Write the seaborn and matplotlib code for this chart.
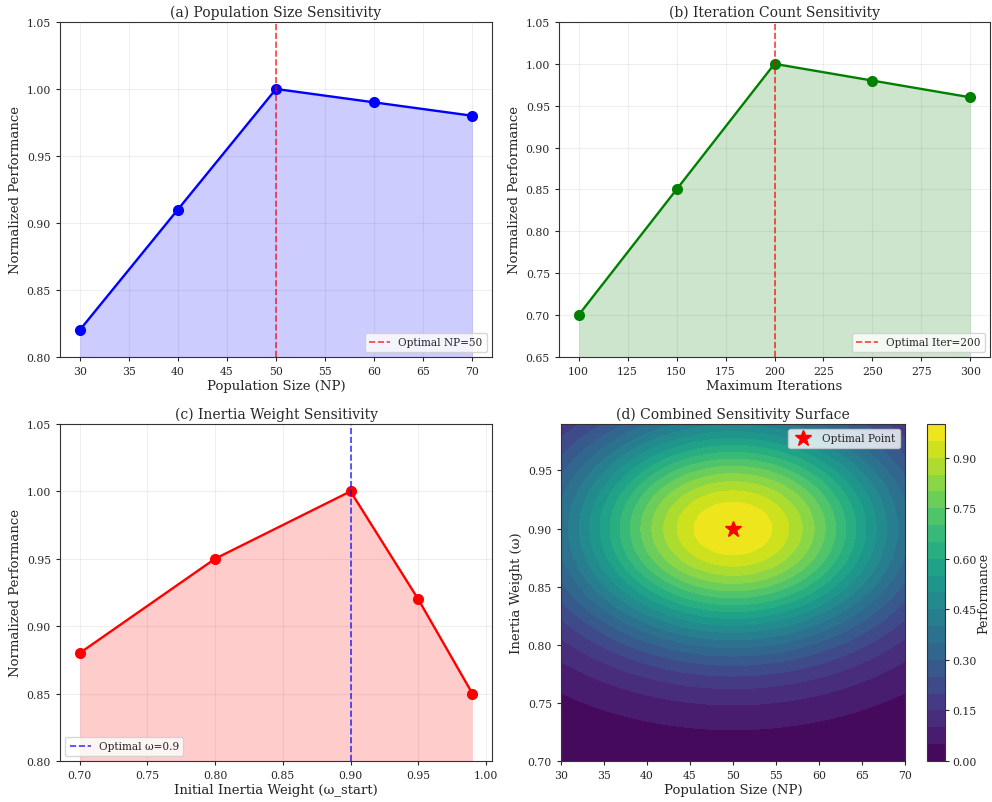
import numpy as np
import pandas as pd
import seaborn as sns
import matplotlib.pyplot as plt

# sensitivity data
NP_VALUES = [30, 40, 50, 60, 70]
NP_PERF = [0.82, 0.91, 1.00, 0.99, 0.98]

ITER_VALUES = [100, 150, 200, 250, 300]
ITER_PERF = [0.70, 0.85, 1.00, 0.98, 0.96]

W_VALUES = [0.70, 0.80, 0.90, 0.95, 0.99]
W_PERF = [0.88, 0.95, 1.00, 0.92, 0.85]

OPT_NP = 50
OPT_ITER = 200
OPT_W = 0.9

# combined surface: gaussian bump around the optimum
SURF_NP = (30, 70)
SURF_W = (0.70, 0.99)
SPREAD_NP = 20
SPREAD_W = 0.1

sns.set_style('ticks')
plt.rcParams['font.family'] = ['DejaVu Serif']
plt.rcParams['axes.edgecolor'] = '#333333'

TITLE_FS = 10
LABEL_FS = 9.5
TICK_FS = 7.8
LEGEND_FS = 7.6

fig = plt.figure(figsize=(9.92, 8.03), dpi=100)
ax_a = fig.add_axes([0.0605, 0.5542, 0.4355, 0.4172])
ax_b = fig.add_axes([0.5635, 0.5542, 0.4345, 0.4172])
ax_c = fig.add_axes([0.0605, 0.0511, 0.4355, 0.4197])
ax_d = fig.add_axes([0.5655, 0.0511, 0.3468, 0.4197])
cax = fig.add_axes([0.9345, 0.0511, 0.0181, 0.4197])


def sensitivity_panel(ax, x, y, color, opt, opt_color, opt_label, ylim,
                      title, xlabel, legend_loc):
    df = pd.DataFrame({'x': x, 'y': y})
    sns.lineplot(data=df, x='x', y='y', ax=ax, color=color, marker='o',
                 markersize=8, linewidth=1.7, markeredgewidth=0)
    ax.fill_between(df['x'], df['y'], ylim[0], color=color, alpha=0.2,
                    linewidth=0)
    ax.axvline(opt, color=opt_color, linestyle='--', linewidth=1.2,
               alpha=0.75, label=opt_label)
    ax.set_ylim(*ylim)
    ax.set_title(title, fontsize=TITLE_FS, pad=4)
    ax.set_xlabel(xlabel, fontsize=LABEL_FS, labelpad=2)
    ax.set_ylabel('Normalized Performance', fontsize=LABEL_FS, labelpad=3)
    ax.tick_params(labelsize=TICK_FS, length=3)
    ax.grid(True, alpha=0.3)
    ax.legend(loc=legend_loc, fontsize=LEGEND_FS)


sensitivity_panel(ax_a, NP_VALUES, NP_PERF, 'blue', OPT_NP, 'red',
                  f'Optimal NP={OPT_NP}', (0.80, 1.05),
                  '(a) Population Size Sensitivity', 'Population Size (NP)',
                  'lower right')
sensitivity_panel(ax_b, ITER_VALUES, ITER_PERF, 'green', OPT_ITER, 'red',
                  f'Optimal Iter={OPT_ITER}', (0.65, 1.05),
                  '(b) Iteration Count Sensitivity', 'Maximum Iterations',
                  'lower right')
sensitivity_panel(ax_c, W_VALUES, W_PERF, 'red', OPT_W, 'blue',
                  f'Optimal \u03c9={OPT_W}', (0.80, 1.05),
                  '(c) Inertia Weight Sensitivity',
                  'Initial Inertia Weight (\u03c9_start)', 'lower left')

# (d) combined surface
np_grid = np.linspace(SURF_NP[0], SURF_NP[1], 81)
w_grid = np.linspace(SURF_W[0], SURF_W[1], 59)
NPm, Wm = np.meshgrid(np_grid, w_grid)
Z = np.exp(-((NPm - OPT_NP) / SPREAD_NP) ** 2 - ((Wm - OPT_W) / SPREAD_W) ** 2)

cs = ax_d.contourf(NPm, Wm, Z, levels=20, cmap='viridis')
ax_d.plot(OPT_NP, OPT_W, 'r*', markersize=12, label='Optimal Point')
cbar = fig.colorbar(cs, cax=cax)
cbar.ax.tick_params(labelsize=TICK_FS, length=3, pad=2)
cbar.set_label('Performance', fontsize=9, labelpad=1)
ax_d.set_title('(d) Combined Sensitivity Surface', fontsize=TITLE_FS, pad=4)
ax_d.set_xlabel('Population Size (NP)', fontsize=LABEL_FS, labelpad=2)
ax_d.set_ylabel('Inertia Weight (\u03c9)', fontsize=LABEL_FS, labelpad=3)
ax_d.tick_params(labelsize=TICK_FS, length=3)
ax_d.legend(loc='upper right', fontsize=LEGEND_FS)

fig.savefig('out.png', dpi=100)
